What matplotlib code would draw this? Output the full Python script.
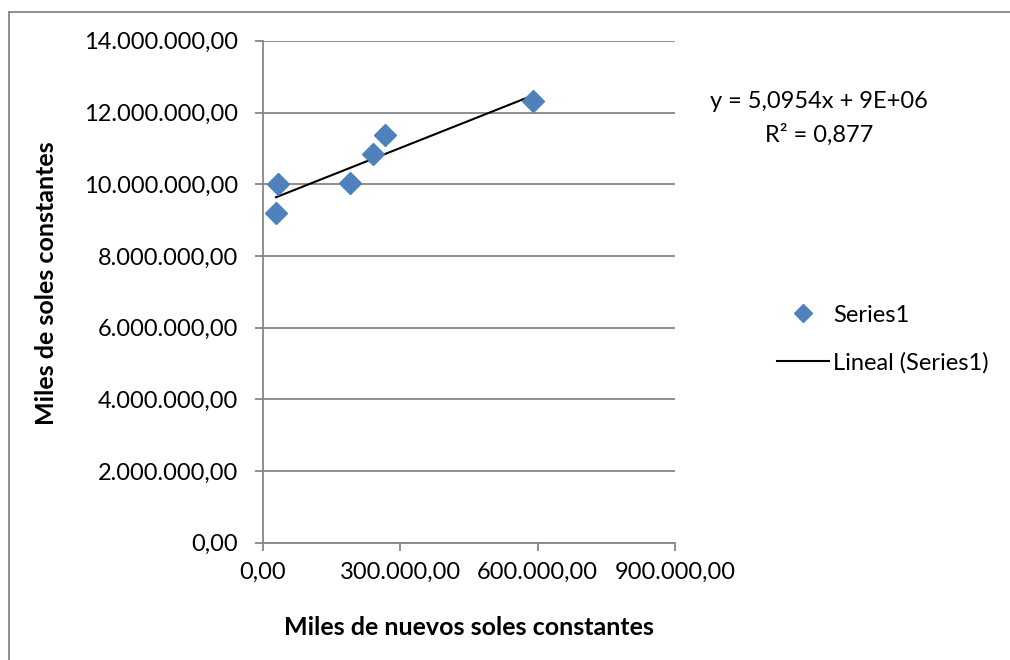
import matplotlib
matplotlib.use("Agg")
import matplotlib.pyplot as plt
from matplotlib.lines import Line2D
import numpy as np

# data
x_vals = [28400, 33400, 190100, 239700, 267200, 589300]
y_vals = [9190000, 10010000, 10040000, 10850000, 11380000, 12310000]
series_name = "Series1"
trend_name = "Lineal (Series1)"
eq_text = "y = 5,0954x + 9E+06"
r2_text = "R² = 0,877"
x_ticks = [0, 300000, 600000, 900000]
y_ticks = [0, 2000000, 4000000, 6000000, 8000000, 10000000, 12000000, 14000000]

plt.rcParams['font.family'] = ['Lato', 'DejaVu Sans']


def es_fmt(v, pos=None):
    # spanish number format: 14.000.000,00
    s = "{:,.2f}".format(v)
    return s.replace(",", "X").replace(".", ",").replace("X", ".")


fig = plt.figure(figsize=(10.1, 6.6), dpi=100)
ax = fig.add_axes([0.2604, 0.1776, 0.4079, 0.7606])

grey = "#868686"
fs = 17

# linear trend line
coef = np.polyfit(x_vals, y_vals, 1)
xs = np.array([min(x_vals), max(x_vals)])
ax.plot(xs, np.polyval(coef, xs), color="black", lw=1.5, zorder=3)
ax.plot(x_vals, y_vals, linestyle="none", marker="D", markersize=11.5,
        color="#4F81BD", markeredgecolor="#4F81BD", zorder=4)

ax.set_xlim(0, 900000)
ax.set_ylim(0, 14000000)
ax.set_xticks(x_ticks)
ax.set_yticks(y_ticks)
ax.xaxis.set_major_formatter(plt.FuncFormatter(es_fmt))
ax.yaxis.set_major_formatter(plt.FuncFormatter(es_fmt))
ax.grid(axis="y", color=grey, lw=1.3)
ax.set_axisbelow(True)
for side in ["top", "right"]:
    ax.spines[side].set_visible(False)
for side in ["left", "bottom"]:
    ax.spines[side].set_color(grey)
    ax.spines[side].set_linewidth(1.3)
ax.tick_params(axis="both", colors=grey, length=6, width=1.3, labelsize=fs,
               labelcolor="black")
ax.tick_params(axis="y", pad=12)
ax.tick_params(axis="x", pad=8)

ax.set_xlabel("Miles de nuevos soles constantes", fontsize=18,
              fontweight="bold", va="center")
ax.set_ylabel("Miles de soles constantes", fontsize=18,
              fontweight="bold", va="center")
ax.xaxis.set_label_coords(0.5, -(628 - 543) / 502)
ax.yaxis.set_label_coords((46 - 263) / 412, (543 - 283) / 502)

# equation and R² text
fig.text(819 / 1010, 1 - 101 / 660, eq_text, ha="center", va="center", fontsize=fs)
fig.text(819 / 1010, 1 - 135 / 660, r2_text, ha="center", va="center", fontsize=fs)

handles = [Line2D([], [], linestyle="none", marker="D", markersize=9,
                  color="#4F81BD"),
           Line2D([], [], color="black", lw=1.5)]
fig.legend(handles, [series_name, trend_name], loc="center left",
           bbox_to_anchor=(768 / 1010, 1 - 339 / 660), frameon=False,
           fontsize=fs, handlelength=2.2, handletextpad=0.17,
           labelspacing=1.1, borderaxespad=0)

# chart border (left/top edge visible in the reference)
fig.add_artist(Line2D([9 / 1010, 9 / 1010], [0, 1 - 12 / 660], color=grey, lw=1.3))
fig.add_artist(Line2D([9 / 1010, 1], [1 - 12 / 660, 1 - 12 / 660], color=grey, lw=1.3))

fig.savefig("out.png", dpi=100)
